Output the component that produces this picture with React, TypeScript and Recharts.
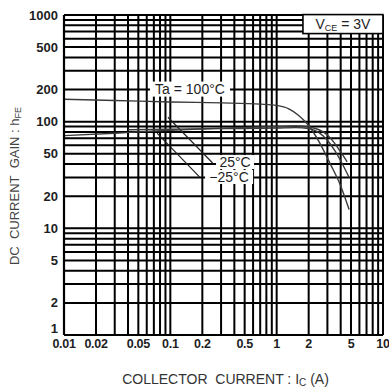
import React from 'react';

import {
  CartesianGrid,
  Label,
  Line,
  LineChart,
  ReferenceDot,
  ReferenceLine,
  XAxis,
  YAxis,
} from 'recharts';

// Ta = 100°C
const current100 = [0.01, 0.03, 0.1, 0.3, 0.7, 1.0, 1.3, 1.6, 2.0, 2.5, 3.2, 4.0, 4.8];
const gain100 = [162, 158, 153, 150, 146, 142, 132, 115, 92, 65, 40, 25, 15];

// Ta = 25°C
const current25 = [0.01, 0.03, 0.1, 0.3, 1.0, 1.5, 2.0, 2.5, 3.0, 3.5, 4.0, 4.6];
const gain25 = [74, 78, 83, 87, 90, 91, 89, 84, 75, 63, 52, 42];

// Ta = -25°C
const currentM25 = [0.04, 0.1, 0.3, 1.0, 1.5, 2.0, 2.5, 3.0, 3.5, 4.0, 4.8];
const gainM25 = [84, 85, 86, 87, 88, 86, 79, 67, 54, 43, 30];

const xDecades = [0.01, 0.1, 1];
const yDecades = [1, 10, 100];
const gridSteps = [1, 2, 3, 4, 5, 6, 7, 8, 9];
const xLabels = [0.01, 0.02, 0.05, 0.1, 0.2, 0.5, 1, 2, 5, 10];
const yLabels = [1, 2, 5, 10, 20, 50, 100, 200, 500, 1000];

const xTicks = [...xDecades.flatMap((d) => gridSteps.map((s) => d * s)), 10];
const yTicks = [...yDecades.flatMap((d) => gridSteps.map((s) => d * s)), 1000];

const toRows = (xs: number[], ys: number[]) => xs.map((ic, i) => ({ ic, hfe: ys[i] }));
const data100 = toRows(current100, gain100);
const data25 = toRows(current25, gain25);
const dataM25 = toRows(currentM25, gainM25);

const isLabel = (list: number[], v: number) => list.some((l) => Math.abs(l - v) / l < 1e-6);

const FONT = '"Liberation Sans", Arial, sans-serif';
const INK = '#1e1e24';

const boxLabel =
  (text: React.ReactNode, w: number, h: number, border = false) =>
  (props: any) => {
    const { cx, cy } = props;
    return (
      <g>
        <rect
          x={cx - w / 2}
          y={cy - h / 2}
          width={w}
          height={h}
          fill="#fff"
          stroke={border ? '#000' : 'none'}
          strokeWidth={1.6}
        />
        <text
          x={cx}
          y={cy + 5}
          textAnchor="middle"
          fontFamily={FONT}
          fontSize={14}
          fill={INK}
        >
          {text}
        </text>
      </g>
    );
  };

const YTick = (props: any) => {
  const { x, y, payload } = props;
  if (!isLabel(yLabels, payload.value)) return null;
  // "1" sits a little higher so it clears "0.01" below it
  const shift = payload.value === 1 ? -7 : 0;
  return (
    <text
      x={x}
      y={y + 4.5 + shift}
      textAnchor="end"
      fontFamily={FONT}
      fontSize={13}
      fontWeight={700}
      fill={INK}
    >
      {payload.value}
    </text>
  );
};

const XTick = (props: any) => {
  const { x, y, payload } = props;
  if (!isLabel(xLabels, payload.value)) return null;
  return (
    <text
      x={x}
      y={y + 9}
      textAnchor="middle"
      fontFamily={FONT}
      fontSize={12.5}
      fontWeight={700}
      fill={INK}
      letterSpacing={-0.3}
    >
      {payload.value}
    </text>
  );
};

const XTitle = (props: any) => {
  const { viewBox } = props;
  return (
    <text
      x={viewBox.x + viewBox.width / 2 + 2}
      y={viewBox.y + 49}
      textAnchor="middle"
      fontFamily={FONT}
      fontSize={14}
      fill="#333"
    >
      COLLECTOR&#160;&#160;CURRENT : I<tspan fontSize={10} dy={2}>C</tspan>
      <tspan dy={-2}> (A)</tspan>
    </text>
  );
};

const YTitle = () => (
  <text
    x={19}
    y={186}
    transform="rotate(-90 19 186)"
    textAnchor="middle"
    fontFamily={FONT}
    fontSize={13}
    fill="#444"
  >
    DC&#160;&#160;CURRENT&#160;&#160;GAIN : h<tspan fontSize={9} dy={2}>FE</tspan>
  </text>
);

const App = () => {
  return (
    <div style={{ position: 'absolute', left: 0, top: 0, background: '#fff' }}>
      <LineChart width={389} height={390} margin={{ top: 15, right: 6, bottom: 25, left: 0 }}>
        <CartesianGrid stroke="#000" strokeWidth={2} />
        <XAxis
          dataKey="ic"
          type="number"
          scale="log"
          domain={[0.01, 10]}
          ticks={xTicks}
          allowDataOverflow
          height={30}
          axisLine={{ stroke: '#000', strokeWidth: 2.2 }}
          tickLine={false}
          tickSize={2}
          tickMargin={2}
          interval={0}
          tick={<XTick />}
        >
          <Label content={<XTitle />} />
        </XAxis>
        <YAxis
          dataKey="hfe"
          type="number"
          scale="log"
          domain={[1, 1000]}
          ticks={yTicks}
          allowDataOverflow
          width={64}
          axisLine={{ stroke: '#000', strokeWidth: 2.2 }}
          tickLine={false}
          tickSize={4}
          tickMargin={2}
          interval={0}
          tick={<YTick />}
        >
          <Label content={<YTitle />} />
        </YAxis>

        <ReferenceLine
          segment={[
            { x: 0.095, y: 110 },
            { x: 0.25, y: 41 },
          ]}
          stroke="#222"
          strokeWidth={1.2}
        />
        <ReferenceLine
          segment={[
            { x: 0.075, y: 78 },
            { x: 0.19, y: 30 },
          ]}
          stroke="#222"
          strokeWidth={1.2}
        />

        <Line
          data={data100}
          dataKey="hfe"
          type="monotone"
          stroke="#3a3a3a"
          strokeWidth={1.4}
          dot={false}
          isAnimationActive={false}
        />
        <Line
          data={data25}
          dataKey="hfe"
          type="monotone"
          stroke="#3a3a3a"
          strokeWidth={1.4}
          dot={false}
          isAnimationActive={false}
        />
        <Line
          data={dataM25}
          dataKey="hfe"
          type="monotone"
          stroke="#3a3a3a"
          strokeWidth={1.4}
          dot={false}
          isAnimationActive={false}
        />

        <ReferenceDot x={0.153} y={202} shape={boxLabel('Ta = 100°C', 80, 15)} />
        <ReferenceDot x={0.406} y={41.8} shape={boxLabel('25°C', 38, 14)} />
        <ReferenceDot x={0.357} y={30.3} shape={boxLabel('−25°C', 48, 14)} />
        <ReferenceDot
          x={4.2}
          y={822}
          shape={boxLabel(
            <>
              V<tspan fontSize={9} dy={2}>CE</tspan>
              <tspan dy={-2}> = 3V</tspan>
            </>,
            80,
            19,
            true,
          )}
        />
      </LineChart>
    </div>
  );
};

export default App;
